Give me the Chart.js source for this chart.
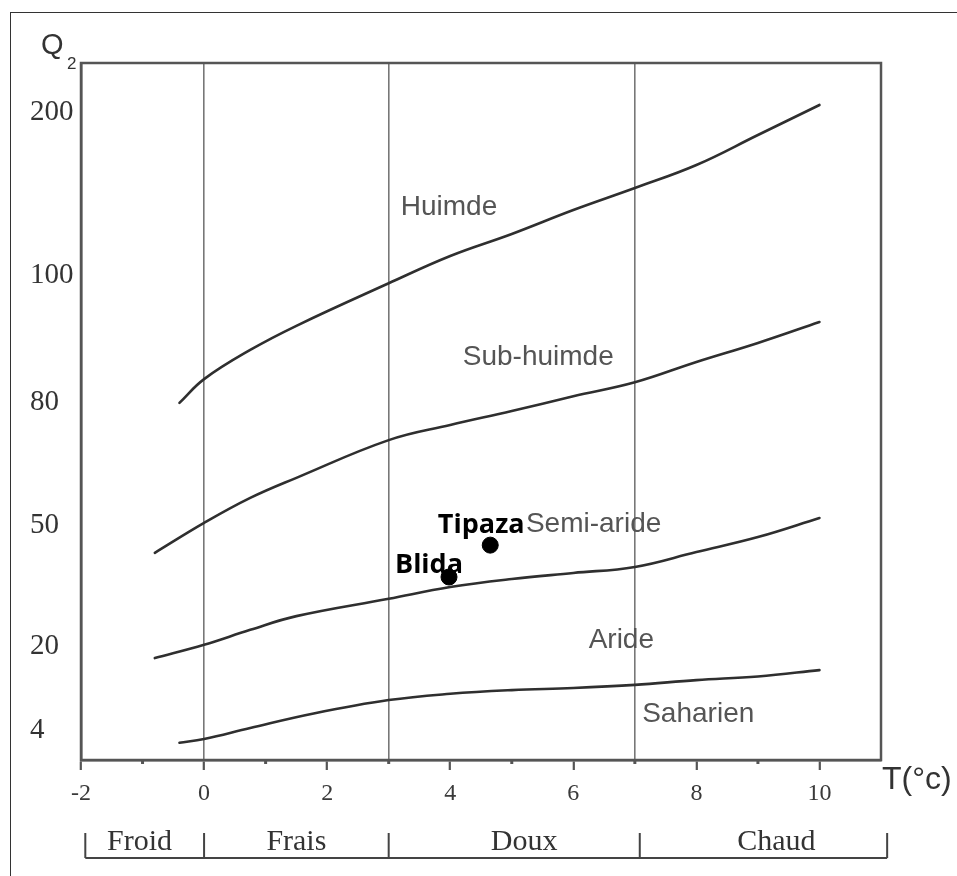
<!DOCTYPE html>
<html><head><meta charset="utf-8">
<script src="https://cdn.jsdelivr.net/npm/chart.js@4.4.1/dist/chart.umd.min.js"></script>
<style>
html,body{margin:0;padding:0;background:#fff;}
#wrap{position:relative;width:957px;height:876px;overflow:hidden;}
#frame{position:absolute;left:10px;top:12px;width:960px;height:880px;border-left:1.5px solid #333;border-top:1.5px solid #333;}
canvas{position:absolute;left:0;top:0;}
</style></head><body>
<div id="wrap"><div id="frame"></div><canvas id="c" width="957" height="876"></canvas></div>
<script>
// ---------- DATA ----------
const yTickLabels = [4, 20, 50, 80, 100, 200];
const xTickLabels = [-2, 0, 2, 4, 6, 8, 10];
const xMinorTicks = [-1, 1, 3, 5, 7, 9];
const thermalDividers = [0, 3, 7];

// Boundary curves (T in °C, Q2)
const humidT     = [-0.4, 0, 0.75, 1.5, 3, 4, 5, 6, 7, 8, 9, 10];
const humidQ     = [79.8, 83.6, 88.2, 92.0, 98.7, 111.7, 125.2, 139.9, 153.4, 167.5, 185.9, 204.3];
const subHumidT  = [-0.8, 0, 0.75, 1.5, 3, 4, 5, 6, 7, 8, 9, 10];
const subHumidQ  = [43.1, 50.5, 56.6, 61.5, 70.7, 74.4, 77.8, 80.9, 83.1, 86.3, 89.3, 92.6];
const semiAridT  = [-0.8, 0, 0.75, 1.5, 3, 4, 5, 6, 7, 8, 9, 10];
const semiAridQ  = [17.7, 20.3, 24.0, 27.4, 31.7, 34.6, 36.6, 38.1, 39.6, 43.3, 47.0, 51.7];
const aridT      = [-0.4, 0, 0.75, 1.8, 3, 4, 5, 6, 7, 8, 9, 10];
const aridQ      = [2.3, 2.8, 4.4, 7.2, 9.7, 10.9, 11.6, 12.0, 12.6, 13.5, 14.2, 15.4];

// Stations
const stationNames = ['Tipaza', 'Blida'];
const stationT = [4.65, 3.98];
const stationQ = [45.0, 37.1];

// Bioclimatic zone labels
const zoneNames = ['Huimde', 'Sub-huimde', 'Semi-aride', 'Aride', 'Saharien'];
const zoneT = [3.98, 5.43, 6.33, 6.78, 8.03];
const zoneQ = [136.8, 85.8, 48.3, 19.6, 5.5];

// Thermal variants
const variantNames = ['Froid', 'Frais', 'Doux', 'Chaud'];
const variantBounds = [-1.93, 0, 3, 7.08, 11.1];
const variantCenters = [-1.05, 1.5, 5.2, 9.3];

// ---------- Emberger (piecewise) Q2 scale ----------
const axisQ   = [0, 4, 20, 50, 80, 100, 200, 230];
const axisDec = [0, 0.043, 0.1636, 0.3372, 0.5136, 0.6958, 0.9297, 1];
function qToDec(q){
  for (let i=1;i<axisQ.length;i++){
    if (q <= axisQ[i] || i===axisQ.length-1){
      const t=(q-axisQ[i-1])/(axisQ[i]-axisQ[i-1]);
      return axisDec[i-1]+t*(axisDec[i]-axisDec[i-1]);
    }
  }
}
function decToQ(d){
  for (let i=1;i<axisDec.length;i++){
    if (d <= axisDec[i] || i===axisDec.length-1){
      const t=(d-axisDec[i-1])/(axisDec[i]-axisDec[i-1]);
      return axisQ[i-1]+t*(axisQ[i]-axisQ[i-1]);
    }
  }
}
class EmbergerScale extends Chart.LinearScale {
  buildTicks(){
    this.min = axisQ[0]; this.max = axisQ[axisQ.length-1];
    return yTickLabels.map(v => ({value: v}));
  }
  getPixelForValue(v){ return (v===null||v===undefined) ? NaN : this.getPixelForDecimal(qToDec(v)); }
  getValueForPixel(p){ return decToQ(this.getDecimalForPixel(p)); }
}
EmbergerScale.id = 'emberger';
EmbergerScale.defaults = Chart.LinearScale.defaults;
Chart.register(EmbergerScale);

const pts = (T,Q) => T.map((t,i)=>({x:t, y:Q[i]}));
const curveStyle = {borderColor:'#2f2f2f', borderWidth:2.6, pointRadius:0, fill:false, tension:0.4, borderCapStyle:'round'};

const decor = {
  id:'decor',
  afterDraw(chart){
    const {ctx, chartArea:a, scales:{x,y}} = chart;
    ctx.save();
    // plot frame
    ctx.strokeStyle='#555'; ctx.lineWidth=2.5;
    ctx.strokeRect(a.left,a.top,a.right-a.left,a.bottom-a.top);
    // minor ticks
    ctx.lineWidth=3; ctx.strokeStyle='#555';
    for (const v of xMinorTicks){
      const px=x.getPixelForValue(v);
      ctx.beginPath(); ctx.moveTo(px,a.bottom); ctx.lineTo(px,a.bottom+4); ctx.stroke();
    }
    // zone labels
    ctx.fillStyle='#555'; ctx.font='28px "Liberation Sans", Arial, sans-serif';
    ctx.textAlign='center'; ctx.textBaseline='alphabetic';
    zoneNames.forEach((n,i)=>ctx.fillText(n, x.getPixelForValue(zoneT[i]), y.getPixelForValue(zoneQ[i])));
    // station labels
    const offs = [[-9,-12],[-20,-4]];
    ctx.fillStyle='#000'; ctx.font='bold 27px "Open Sans", sans-serif';
    stationNames.forEach((n,i)=>ctx.fillText(n, x.getPixelForValue(stationT[i])+offs[i][0], y.getPixelForValue(stationQ[i])+offs[i][1]));
    // Q2 axis title
    ctx.fillStyle='#333'; ctx.textAlign='left';
    ctx.font='29px "Liberation Sans", Arial, sans-serif';
    ctx.fillText('Q', a.left-40, a.top-9);
    ctx.font='17px "Liberation Sans", Arial, sans-serif';
    ctx.fillText('2', a.left-14, a.top+6);
    // T axis title
    ctx.font='32px "Liberation Sans", Arial, sans-serif';
    ctx.fillText('T(°c)', a.right+1, a.bottom+29);
    // thermal variants bracket
    ctx.strokeStyle='#444'; ctx.lineWidth=2;
    const yl=a.bottom+98, yt=a.bottom+73;
    ctx.beginPath();
    ctx.moveTo(x.getPixelForValue(variantBounds[0]), yl);
    ctx.lineTo(x.getPixelForValue(variantBounds[variantBounds.length-1]), yl);
    for (const b of variantBounds){ const px=x.getPixelForValue(b); ctx.moveTo(px,yt); ctx.lineTo(px,yl); }
    ctx.stroke();
    ctx.fillStyle='#333'; ctx.textAlign='center';
    ctx.font='30px "Liberation Serif", "Times New Roman", serif';
    variantNames.forEach((n,i)=>ctx.fillText(n, x.getPixelForValue(variantCenters[i]), a.bottom+90));
    ctx.restore();
  }
};

new Chart(document.getElementById('c'), {
  type:'line',
  data:{ datasets:[
    {label:'Humide', data:pts(humidT,humidQ), ...curveStyle},
    {label:'Sub-humide', data:pts(subHumidT,subHumidQ), ...curveStyle},
    {label:'Semi-aride', data:pts(semiAridT,semiAridQ), ...curveStyle},
    {label:'Aride', data:pts(aridT,aridQ), ...curveStyle},
    {label:'Stations', data:pts(stationT,stationQ), showLine:false, pointRadius:8, pointStyle:'circle',
      pointBackgroundColor:'#000', pointBorderColor:'#000', borderColor:'#000'}
  ]},
  options:{
    responsive:false, animation:false,
    layout:{padding:{left:30, top:63, right:76, bottom:0}},
    plugins:{legend:{display:false}, tooltip:{enabled:false}},
    scales:{
      x:{ type:'linear', min:-2, max:11,
        ticks:{ stepSize:1, autoSkip:false, maxRotation:0, padding:9,
          callback:v => xTickLabels.includes(v) ? String(v) : '',
          font:{family:'"Liberation Serif", "Times New Roman", serif', size:24}, color:'#3a3a3a'},
        grid:{ color:c => thermalDividers.includes(c.tick && c.tick.value) ? '#777' : 'rgba(0,0,0,0)',
          lineWidth:1.6, tickLength:10,
          tickColor:c => xTickLabels.includes(c.tick && c.tick.value) ? '#555' : 'rgba(0,0,0,0)', tickWidth:2.2},
        border:{display:true, color:'#555', width:2.5},
        afterFit:s => { s.height = 116; }
      },
      y:{ type:'emberger', position:'left',
        ticks:{ crossAlign:'far', padding:4, autoSkip:false, callback:v => String(v),
          font:{family:'"Liberation Serif", "Times New Roman", serif', size:29}, color:'#333'},
        grid:{display:false},
        border:{display:true, color:'#555', width:2.5},
        afterFit:s => { s.width = 51; }
      }
    }
  },
  plugins:[decor]
});
</script></body></html>
